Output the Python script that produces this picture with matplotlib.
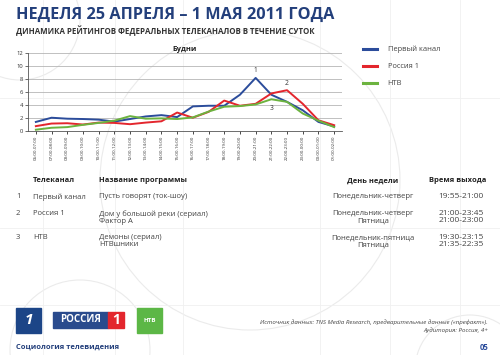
import numpy as np
import matplotlib
matplotlib.use("Agg")
import matplotlib.pyplot as plt
from matplotlib.patches import Rectangle, Circle

plt.rcParams['font.family'] = ['Open Sans', 'DejaVu Sans']

# данные графика
hours = ["06:00-07:00", "07:00-08:00", "08:00-09:00", "09:00-10:00", "10:00-11:00",
         "11:00-12:00", "12:00-13:00", "13:00-14:00", "14:00-15:00", "15:00-16:00",
         "16:00-17:00", "17:00-18:00", "18:00-19:00", "19:00-20:00", "20:00-21:00",
         "21:00-22:00", "22:00-23:00", "23:00-00:00", "00:00-01:00", "01:00-02:00"]
perviy = [1.4, 2.05, 1.9, 1.85, 1.75, 1.45, 1.85, 2.25, 2.45, 2.15,
          3.8, 3.9, 3.9, 5.6, 8.2, 5.6, 4.5, 3.2, 1.4, 0.7]
rossiya = [0.75, 1.15, 1.2, 1.0, 1.3, 1.25, 1.05, 1.3, 1.5, 2.85,
           2.05, 2.95, 4.7, 3.9, 4.2, 5.8, 6.3, 4.2, 1.65, 0.9]
ntv = [0.2, 0.5, 0.6, 0.95, 1.25, 1.6, 2.3, 1.9, 1.95, 1.85,
       2.1, 3.0, 3.75, 3.85, 4.1, 4.9, 4.5, 2.7, 1.6, 0.6]
series_names = ["Первый канал", "Россия 1", "НТВ"]
colors = ["#2b4c9b", "#e3262d", "#6cb33f"]

# таблица
t_nums = ["1", "2", "3"]
t_channels = ["Первый канал", "Россия 1", "НТВ"]
t_programs = ["Пусть говорят (ток-шоу)", "Дом у большой реки (сериал)\nФактор А",
              "Демоны (сериал)\nНТВшники"]
t_days = ["Понедельник-четверг", "Понедельник-четверг\nПятница", "Понедельник-пятница\nПятница"]
t_times = ["19:55-21:00", "21:00-23:45\n21:00-23:00", "19:30-23:15\n21:35-22:35"]

W, H = 500, 355
fig = plt.figure(figsize=(5, 3.55), dpi=100)
fig.patch.set_facecolor("white")

def fx(x):
    return x / W

def fy(y):
    return 1 - y / H

# фоновые декоративные линии
bg = fig.add_axes([0, 0, 1, 1], zorder=-5)
bg.set_xlim(0, W)
bg.set_ylim(H, 0)
bg.axis("off")
for cx, cy, r in [(250, 180, 150), (80, 350, 70), (660, 60, 120), (470, 370, 55), (20, 20, 60)]:
    bg.add_patch(Circle((cx, cy), r, fill=False, ec="#ebebeb", lw=0.8))
for vx in [43, 115, 183, 320, 390, 460]:
    bg.axvline(vx, color="#f0f0f0", lw=0.6)
for hy in [98, 228, 305]:
    bg.axhline(hy, color="#f0f0f0", lw=0.6)

fig.text(fx(16), fy(15), "НЕДЕЛЯ 25 АПРЕЛЯ – 1 МАЯ 2011 ГОДА", fontsize=11.7,
         fontweight="bold", color="#233f7b", va="center")
fig.text(fx(16), fy(31), "ДИНАМИКА РЕЙТИНГОВ ФЕДЕРАЛЬНЫХ ТЕЛЕКАНАЛОВ В ТЕЧЕНИЕ СУТОК",
         fontsize=5.7, fontweight="bold", color="#333333", va="center")

ax = fig.add_axes([fx(28), fy(131), fx(314), (131 - 53.3) / H])
x = np.arange(len(hours))
for vals, name, c in zip([perviy, rossiya, ntv], series_names, colors):
    ax.plot(x, vals, color=c, lw=1.4, label=name, solid_joinstyle="round")

ax.set_xlim(-0.5, 19.5)
ax.set_ylim(0, 12)
ax.set_yticks(range(0, 13, 2))
ax.set_xticks(x)
ax.set_xticklabels(hours, rotation=90, fontsize=3.2, color="#333333")
ax.tick_params(axis="y", labelsize=4.2, length=2, width=0.5, pad=1.5, colors="#333333")
ax.tick_params(axis="x", length=2, width=0.5, pad=1.5)
ax.grid(axis="y", color="#b5b5b5", lw=0.6)
ax.set_axisbelow(True)
for s in ["top", "right"]:
    ax.spines[s].set_visible(False)
for s in ["left", "bottom"]:
    ax.spines[s].set_linewidth(0.6)
    ax.spines[s].set_color("#555555")
ax.patch.set_alpha(0)
ax.set_title("Будни", fontsize=5.3, fontweight="bold", color="#222222", pad=2)

# метки пиков
for lbl, vals, i, dy in [("1", perviy, 14, 3), ("2", rossiya, 16, 2), ("3", ntv, 15, -9)]:
    ax.annotate(lbl, (i, vals[i]), xytext=(0, dy), textcoords="offset points",
                ha="center", va="bottom", fontsize=4.8, color="#333333")

fig.legend(loc="upper left", bbox_to_anchor=(fx(356), fy(39)), frameon=False,
           fontsize=5.4, handlelength=1.9, handletextpad=1.4, labelspacing=1.3,
           labelcolor="#444444")
for h in fig.legends[0].get_lines():
    h.set_linewidth(2.2)

# таблица программ
hdr_y = 181
hk = dict(fontsize=5.4, fontweight="bold", color="#222222", va="center")
fig.text(fx(33), fy(hdr_y), "Телеканал", **hk)
fig.text(fx(99), fy(hdr_y), "Название программы", **hk)
fig.text(fx(373), fy(hdr_y), "День недели", ha="center", **hk)
fig.text(fx(458), fy(hdr_y), "Время выхода", ha="center", **hk)
row_y = [198, 215, 239]
for i in range(3):
    y = fy(row_y[i])
    kw = dict(fontsize=5.5, color="#444444", va="top", linespacing=1.0)
    fig.text(fx(16), y + 0.013, t_nums[i], **kw)
    fig.text(fx(33), y + 0.013, t_channels[i], **kw)
    fig.text(fx(99), y + 0.013, t_programs[i], **kw)
    fig.text(fx(373), y + 0.013, t_days[i], ha="center", multialignment="center", **kw)
    fig.text(fx(461), y + 0.013, t_times[i], ha="center", multialignment="center",
             **dict(kw, fontsize=6))

# логотипы
fig.patches.append(Rectangle((fx(16), fy(333)), fx(25), 25 / H, color="#1c4587",
                             transform=fig.transFigure))
fig.text(fx(28.5), fy(320.5), "1", fontsize=11, fontweight="bold", fontstyle="italic",
         color="white", ha="center", va="center")
fig.patches.append(Rectangle((fx(53), fy(328)), fx(55), 16 / H, color="#2a4b8d",
                             transform=fig.transFigure))
fig.text(fx(80.5), fy(320), "РОССИЯ", fontsize=7, fontweight="bold", color="white",
         ha="center", va="center")
fig.patches.append(Rectangle((fx(108), fy(328)), fx(16), 16 / H, color="#e3262d",
                             transform=fig.transFigure))
fig.text(fx(116), fy(320), "1", fontsize=10, fontweight="bold", color="white",
         ha="center", va="center")
fig.patches.append(Rectangle((fx(137), fy(333)), fx(25), 25 / H, color="#5cb746",
                             transform=fig.transFigure))
fig.text(fx(149.5), fy(320.5), "НТВ", fontsize=4.5, fontweight="bold", color="white",
         ha="center", va="center")

fig.text(fx(16), fy(347), "Социология телевидения", fontsize=5.4, fontweight="bold",
         color="#233f7b", va="center")
fig.text(fx(488), fy(322), "Источник данных: TNS Media Research, предварительные данные («префакт»).",
         fontsize=4.4, fontstyle="italic", color="#444444", ha="right", va="center")
fig.text(fx(488), fy(330), "Аудитория: Россия, 4+", fontsize=4.4, fontstyle="italic",
         color="#444444", ha="right", va="center")
fig.text(fx(488), fy(347), "05", fontsize=5.6, fontweight="bold", color="#2b4c9b",
         ha="right", va="center")

fig.savefig("out.png", dpi=100)
